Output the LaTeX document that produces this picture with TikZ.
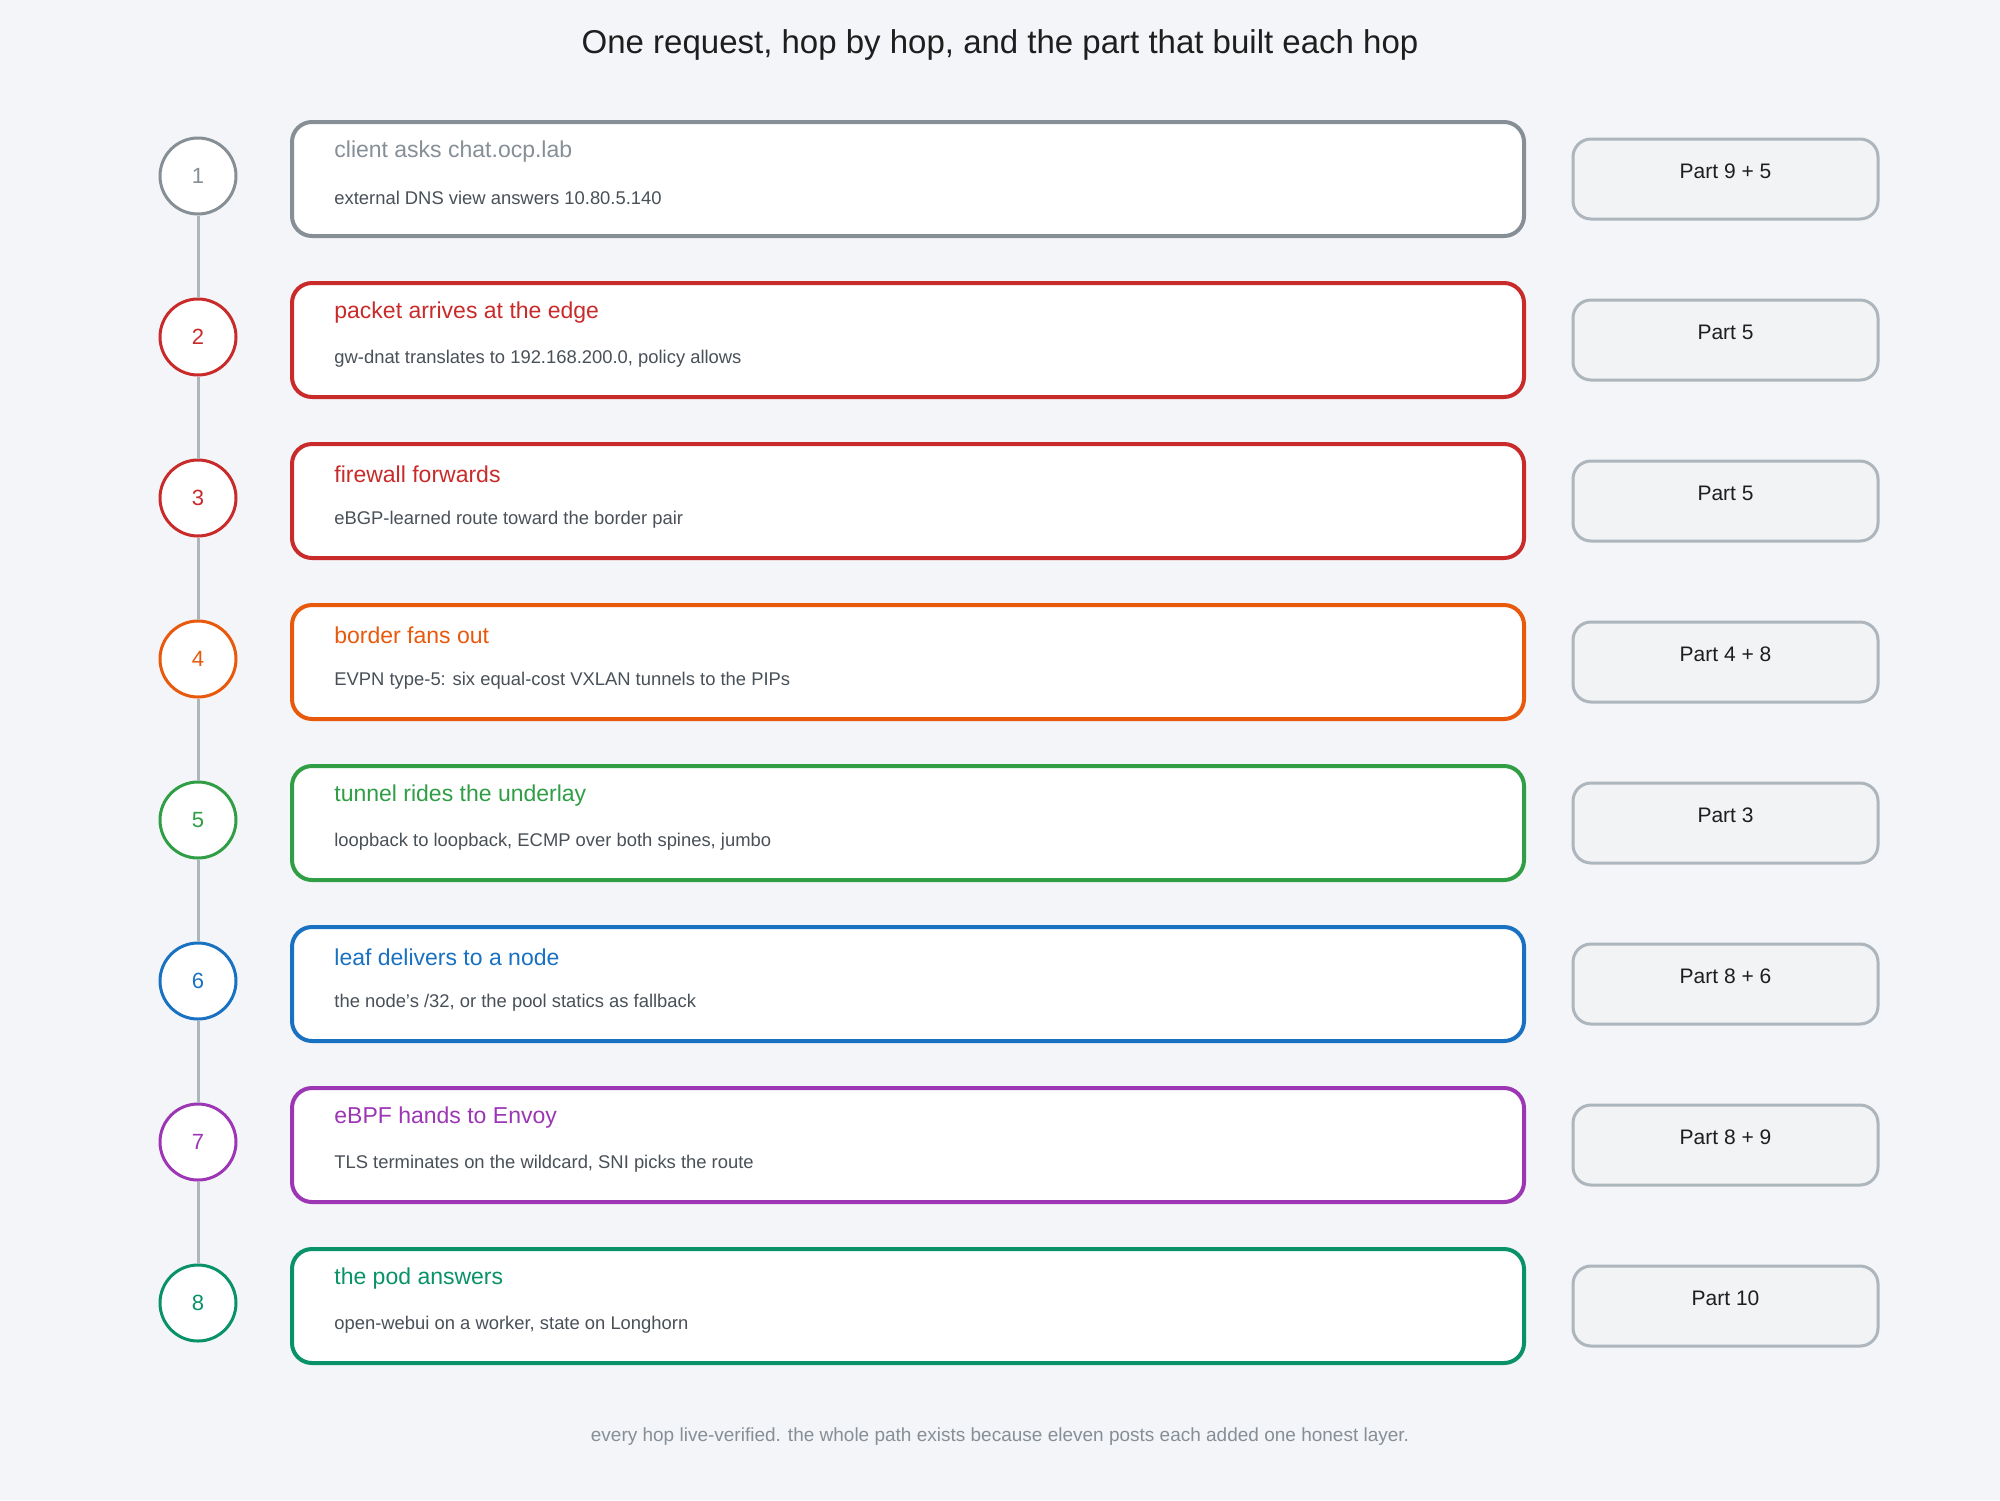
\documentclass[tikz,border=0pt]{standalone}
\usepackage{fontspec}
\setmainfont{Liberation Sans}
\definecolor{bgpage}{HTML}{F4F5F8}
\definecolor{inkdark}{HTML}{1E1E1E}
\definecolor{inksub}{HTML}{495057}
\definecolor{hopgray}{HTML}{868E96}
\definecolor{hopred}{HTML}{C92A2A}
\definecolor{hoporange}{HTML}{E8590C}
\definecolor{hopgreen}{HTML}{2F9E44}
\definecolor{hopblue}{HTML}{1971C2}
\definecolor{hoppurple}{HTML}{9C36B5}
\definecolor{hopteal}{HTML}{099268}
\definecolor{partline}{HTML}{ADB5BD}
\definecolor{partfill}{HTML}{F1F3F5}

\tikzset{
    hopcircle/.style={circle, draw=#1, line width=1.5pt, fill=white, text=#1,
        minimum size=38pt, inner sep=0pt, font=\fontsize{11}{13}\selectfont},
    hopbox/.style={draw=#1, line width=2pt, fill=white, rounded corners=10pt,
        minimum width=616pt, minimum height=57pt, inner sep=0pt},
    hoptitle/.style={anchor=west, inner sep=0pt, font=\fontsize{11.5}{14}\selectfont},
    hopsub/.style={anchor=west, inner sep=0pt, text=inksub, font=\fontsize{9.2}{11}\selectfont},
    partbox/.style={draw=partline, fill=partfill, line width=1.5pt, rounded corners=9pt,
        minimum width=152.5pt, minimum height=40pt, inner sep=0pt},
    parttext/.style={inner sep=0pt, text=inkdark, font=\fontsize{10.5}{12}\selectfont},
    hopline/.style={draw=partline, line width=1.5pt}
}

\begin{document}
\begin{tikzpicture}[x=0.5pt, y=-0.5pt]
        \fill[bgpage] (0, 0) rectangle (2000, 1500);
        \useasboundingbox (0, 0) rectangle (2000, 1500);

        \node[text=inkdark, font=\fontsize{16.5}{20}\selectfont] (title) at (1000, 45) {One request, hop by hop, and the part that built each hop};

        % one row per hop
        \foreach \n/\col/\head/\sub/\part in {
            1/hopgray/{client asks chat.ocp.lab}/{external DNS view answers 10.80.5.140}/{Part 9 + 5},
            2/hopred/{packet arrives at the edge}/{gw-dnat translates to 192.168.200.0, policy allows}/{Part 5},
            3/hopred/{firewall forwards}/{eBGP-learned route toward the border pair}/{Part 5},
            4/hoporange/{border fans out}/{EVPN type-5: six equal-cost VXLAN tunnels to the PIPs}/{Part 4 + 8},
            5/hopgreen/{tunnel rides the underlay}/{loopback to loopback, ECMP over both spines, jumbo}/{Part 3},
            6/hopblue/{leaf delivers to a node}/{the node's /32, or the pool statics as fallback}/{Part 8 + 6},
            7/hoppurple/{eBPF hands to Envoy}/{TLS terminates on the wildcard, SNI picks the route}/{Part 8 + 9},
            8/hopteal/{the pod answers}/{open-webui on a worker, state on Longhorn}/{Part 10}}{
            \pgfmathsetmacro{\yy}{179 + 161*(\n - 1)}
            \node[hopcircle=\col] (c\n) at (198, \yy - 3) {\n};
            \node[hopbox=\col] (b\n) at (908, \yy) {};
            \node[hoptitle, text=\col] (t\n) at (334, \yy - 27) {\head};
            \node[hopsub] (s\n) at (334, \yy + 19) {\sub};
            \node[partbox] (p\n) at (1725.5, \yy) {};
            \node[parttext] (pt\n) at (1725.5, \yy - 8) {\part};
        }

        % the spine between the hop numbers
        \foreach \a/\b in {1/2, 2/3, 3/4, 4/5, 5/6, 6/7, 7/8}
            \draw[hopline] (c\a) -- (c\b);

        \node[text=hopgray, font=\fontsize{9.5}{11}\selectfont] (foot) at (1000, 1437) {every hop live-verified. the whole path exists because eleven posts each added one honest layer.};

    \end{tikzpicture}
\end{document}
